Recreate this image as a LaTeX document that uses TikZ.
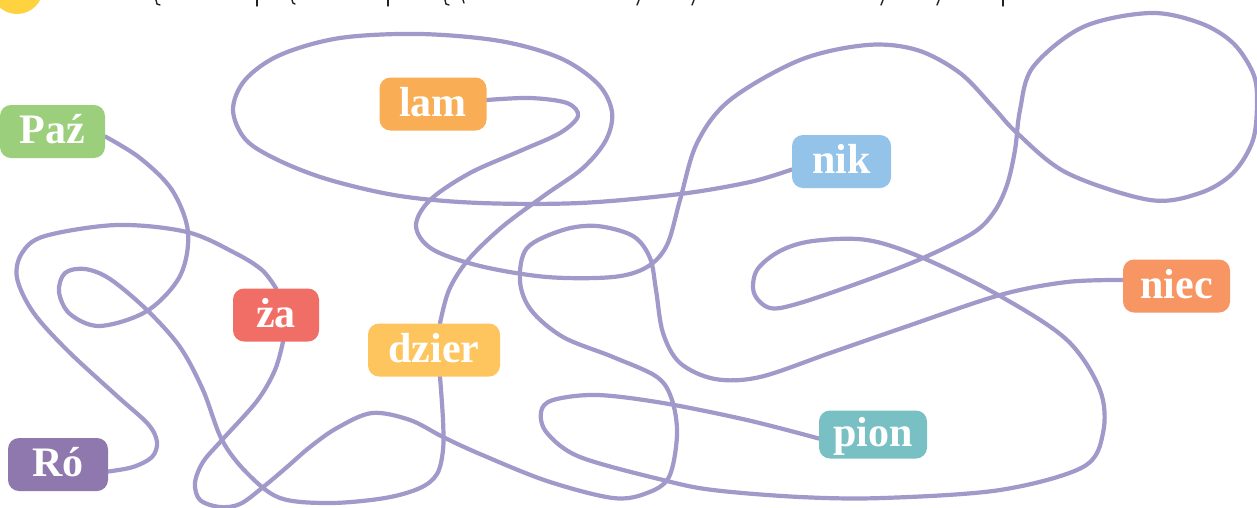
\documentclass[tikz,border=0pt]{standalone}
\usepackage{fontspec}
\setmainfont{Liberation Serif}
\usetikzlibrary{backgrounds}
\definecolor{wire}{HTML}{A099CA}
\definecolor{cPaz}{HTML}{9BCF7B}
\definecolor{cLam}{HTML}{F9AE55}
\definecolor{cNik}{HTML}{93C3E9}
\definecolor{cNiec}{HTML}{F79663}
\definecolor{cZa}{HTML}{F06E66}
\definecolor{cDzier}{HTML}{FEC55F}
\definecolor{cRo}{HTML}{8E78AE}
\definecolor{cPion}{HTML}{78C0C3}
\definecolor{cSun}{HTML}{FFD23F}
\definecolor{ink}{HTML}{222222}
\newcommand{\lblfont}{\fontsize{42}{46}\selectfont\bfseries}
\tikzset{
  lbl/.style={rounded corners=11pt, text=white, font=\lblfont, inner sep=0pt,
    minimum height=53pt, text height=26pt, text depth=2pt},
  wireline/.style={draw=wire, line width=4.2pt, line cap=round, line join=round},
  tick/.style={draw=ink, line width=1.4pt, line cap=round}
}
\begin{document}
\begin{tikzpicture}[x=1pt,y=-1pt]
\useasboundingbox (0,0) rectangle (1257,507);
% labels
\node[lbl, fill=cPaz, minimum width=105pt] (paz) at (52.5,131.5) {Paź};
\node[lbl, fill=cLam, minimum width=107pt] (lam) at (433,104) {lam};
\node[lbl, fill=cNik, minimum width=99pt] (nik) at (841.5,161.5) {nik};
\node[lbl, fill=cNiec, minimum width=107pt] (niec) at (1176.5,286) {niec};
\node[lbl, fill=cZa, minimum width=86pt] (za) at (276,315) {ża};
\node[lbl, fill=cDzier, minimum width=132pt] (dzier) at (434,350) {dzier};
\node[lbl, fill=cRo, minimum width=100pt] (ro) at (58,464.5) {Ró};
\node[lbl, fill=cPion, minimum width=108pt, minimum height=48pt] (pion) at (873,434.5) {pion};
\begin{pgfonlayer}{background}
\fill[white] (0,0) rectangle (1257,507);
\clip (0,0) rectangle (1257,507);
% top decorations (cut-off heading)
\fill[cSun] (17,-12) circle (26);
\draw[tick] (156,0) -- (157,4) -- (160,5);
\draw[tick] (257,0) -- (257,6);
\draw[tick] (292,0) -- (293,3) -- (295,4);
\draw[tick] (388,0) -- (388,6);
\draw[tick] (445,0) -- (446,4) -- (449,5);
\draw[tick] (463,0) -- (464,3);
\draw[tick] (639,0) -- (637,5);
\draw[tick] (694,0) -- (692,5);
\draw[tick] (883,0) -- (881,5);
\draw[tick] (939,0) -- (937,5);
\draw[tick] (1003,0) -- (1003,6);
% Paź -> dzier
\draw[wireline] plot[smooth, tension=0.55] coordinates {
  ([yshift=-5pt]paz.east) (140,158) (172,190) (188,232) (180,276) (147,311)
  (100,326) (70,314) (59,292) (65,273) (85,269) (110,279) (147,310) (180,347)
  (203,390) (222,440) (247,473) (280,498) (330,503) (385,498) (420,488)
  (437,474) (443,450) (443,420) ([xshift=6pt]dzier.south)};
% dzier -> nik
\draw[wireline] plot[smooth, tension=0.55] coordinates {
  ([xshift=6pt]dzier.north) (449,290) (468,260) (502,227) (545,195) (583,168)
  (606,140) (612,112) (598,84) (560,58) (500,41) (420,34) (340,38) (280,55)
  (245,80) (233,110) (246,140) (280,161) (330,180) (400,196) (480,203)
  (580,203) (680,194) (750,182) ([yshift=-8pt]nik.west)};
% Ró -> ża
\draw[wireline] plot[smooth, tension=0.55] coordinates {
  ([yshift=-7pt]ro.east) (133,467) (152,457) (157,442) (148,424) (117,396)
  (67,350) (33,312) (17,278) (22,253) (45,236) (117,225) (187,232) (235,253)
  (262,270) (za.north)};
% ża -> niec
\draw[wireline] plot[smooth, tension=0.55] coordinates {
  ([xshift=7pt]za.south) (275,370) (257,401) (222,440) (203,462) (195,483)
  (200,500) (220,507) (240,504) (262,488) (287,467) (310,447) (337,428)
  (372,413) (410,420) (443,437) (480,454) (547,481) (613,498) (647,493)
  (669,477) (677,435) (672,400) (657,377) (613,357) (563,337) (531,310)
  (520,281) (527,248) (563,230) (597,226) (633,236) (650,258) (656,290)
  (663,333) (680,363) (715,379) (760,377) (830,353) (905,327) (1000,295)
  (1067,282) ([yshift=6pt]niec.west)};
% lam -> pion
\draw[wireline] plot[smooth, tension=0.55] coordinates {
  ([yshift=4pt]lam.east) (530,98) (567,103) (578,116) (560,133) (520,151)
  (470,173) (430,200) (416,226) (432,249) (480,266) (547,277) (613,277)
  (647,267) (667,245) (680,200) (697,143) (730,100) (800,60) (867,45)
  (917,50) (960,73) (993,107) (1017,133) (1067,173) (1150,200) (1200,193)
  (1233,173) (1253,140) (1257,100) (1253,73) (1233,43) (1200,23) (1150,13)
  (1083,27) (1033,67) (1020,110) (1015,150) (1007,185) (994,212) (973,233)
  (923,258) (867,280) (800,303) (770,308) (754,293) (757,270) (780,251)
  (813,241) (867,240) (923,258) (1000,296) (1067,340) (1100,390) (1103,433)
  (1083,467) (1000,490) (883,498) (800,497) (713,490) (663,480) (580,457)
  (547,433) (541,412) (553,400) (597,395) (663,403) (747,420)
  ([yshift=-4pt]pion.west)};
\end{pgfonlayer}
\end{tikzpicture}
\end{document}
